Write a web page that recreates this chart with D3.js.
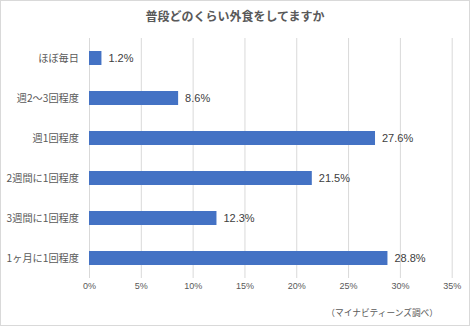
<!DOCTYPE html>
<html><head><meta charset="utf-8">
<script src="https://cdn.jsdelivr.net/npm/d3@7"></script>
<style>body{margin:0;background:#fff;} svg{display:block;font-family:"Noto Sans CJK JP","Noto Sans",sans-serif;}</style>
</head><body>
<script>
const categories = ["ほぼ毎日","週2～3回程度","週1回程度","2週間に1回程度","3週間に1回程度","1ヶ月に1回程度"];
const values = [1.2, 8.6, 27.6, 21.5, 12.3, 28.8];
const ticks = [0,5,10,15,20,25,30,35];
const title = "普段どのくらい外食をしてますか";
const source = "（マイナビティーンズ調べ）";

const W = 470, H = 326;
const narrow = "'Liberation Sans Narrow','Arial Narrow','Liberation Sans',sans-serif";
const svg = d3.select("body").append("svg").attr("width", W).attr("height", H);
svg.append("rect").attr("x",0.5).attr("y",0.5).attr("width",W-1).attr("height",H-1).attr("fill","#fff").attr("stroke","#d9d9d9");

const x = d3.scaleLinear().domain([0,35]).range([89,451.7]);
const y = d3.scaleBand().domain(categories).range([38,278]).paddingInner(0.65).paddingOuter(0.325);

svg.append("text").attr("x",235).attr("y",21).attr("text-anchor","middle")
  .attr("font-size",12).attr("font-weight","bold").attr("fill","#595959").text(title);

const xAxis = svg.append("g").attr("transform","translate(0,38)")
  .call(d3.axisBottom(x).tickValues(ticks).tickSize(240).tickFormat(d=>d+"%"));
xAxis.select(".domain").remove();
xAxis.selectAll(".tick line").attr("stroke","#d9d9d9");
xAxis.selectAll(".tick text").attr("fill","#595959").attr("font-size",9).attr("dy","0.9em")
  .attr("font-family",narrow);

svg.selectAll("rect.bar").data(values).join("rect").attr("class","bar")
  .attr("x",x(0)).attr("y",(d,i)=>y(categories[i])).attr("height",y.bandwidth())
  .attr("width",d=>x(d)-x(0)).attr("fill","#4472c4");

svg.selectAll("text.val").data(values).join("text").attr("class","val")
  .attr("x",d=>x(d)+7).attr("y",(d,i)=>y(categories[i])+y.bandwidth()/2).attr("dy","0.36em")
  .attr("font-size",11).attr("fill","#404040").attr("font-family",narrow)
  .text(d=>d.toFixed(1)+"%");

svg.selectAll("text.cat").data(categories).join("text").attr("class","cat")
  .attr("x",79).attr("y",d=>y(d)+y.bandwidth()/2).attr("dy","0.35em").attr("text-anchor","end")
  .attr("font-size",10.2).attr("fill","#595959").text(d=>d);

svg.append("text").attr("x",438).attr("y",316).attr("text-anchor","end")
  .attr("font-size",8.7).attr("fill","#595959").text(source);
</script>
</body></html>
